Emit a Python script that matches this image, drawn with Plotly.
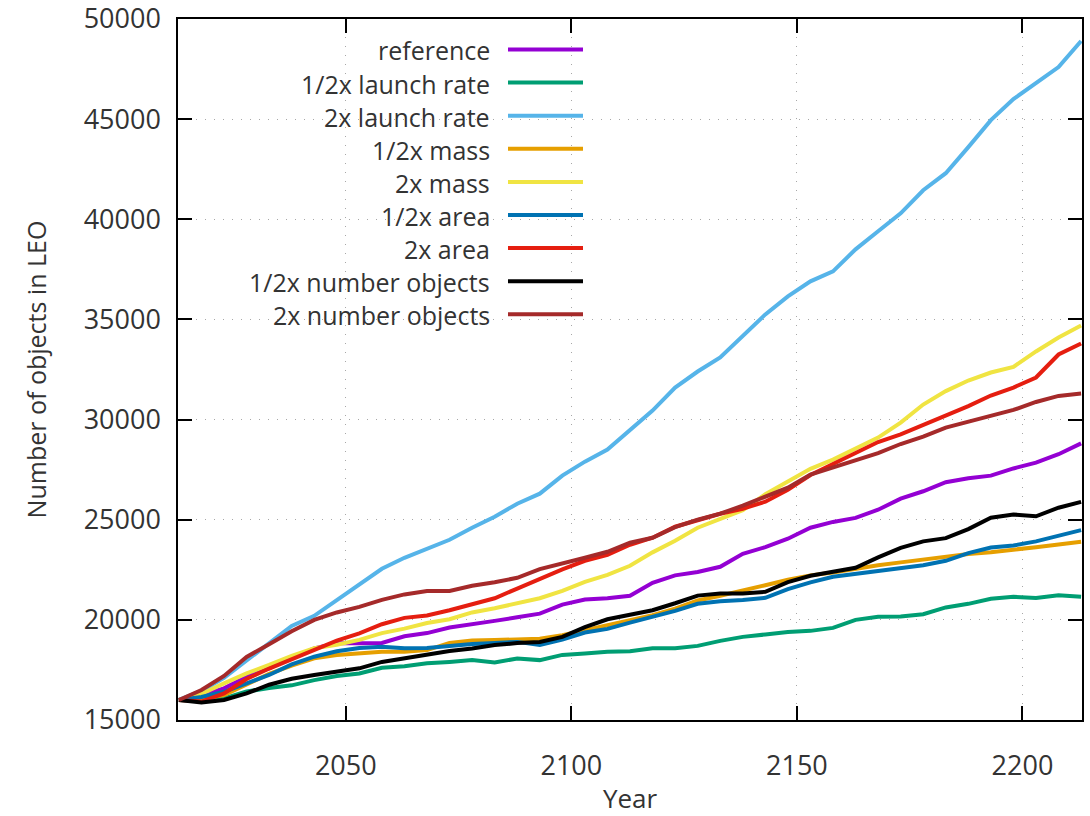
import plotly.graph_objects as go

# Simulated number of objects in LEO, sampled every 5 years
years = [2013, 2018, 2023, 2028, 2033, 2038, 2043, 2048, 2053, 2058,
         2063, 2068, 2073, 2078, 2083, 2088, 2093, 2098, 2103, 2108,
         2113, 2118, 2123, 2128, 2133, 2138, 2143, 2148, 2153, 2158,
         2163, 2168, 2173, 2178, 2183, 2188, 2193, 2198, 2203, 2208, 2213]

reference = [16000, 16250, 16580, 17160, 17580, 18110, 18580, 18830, 18830, 18850,
             19180, 19340, 19620, 19760, 19950, 20130, 20310, 20760, 21020, 21080,
             21200, 21850, 22220, 22390, 22650, 23300, 23630, 24050, 24600, 24890,
             25090, 25500, 26050, 26420, 26870, 27070, 27200, 27560, 27850, 28270, 28810]

half_launch = [16000, 15950, 16080, 16420, 16600, 16730, 16990, 17200, 17320, 17610,
               17680, 17830, 17900, 17990, 17870, 18070, 17990, 18250, 18320, 18410,
               18430, 18580, 18580, 18700, 18950, 19150, 19270, 19390, 19450, 19600,
               20000, 20150, 20170, 20280, 20620, 20800, 21050, 21150, 21090, 21230, 21150]

double_launch = [16000, 16450, 17100, 17950, 18850, 19700, 20200, 21000, 21800, 22550,
                 23100, 23550, 24000, 24600, 25150, 25800, 26300, 27200, 27900, 28500,
                 29450, 30450, 31600, 32400, 33100, 34200, 35250, 36150, 36900, 37400,
                 38500, 39400, 40300, 41450, 42300, 43600, 44950, 46000, 46800, 47600, 48900]

half_mass = [16000, 16050, 16250, 16750, 17300, 17720, 18080, 18250, 18350, 18410,
             18410, 18490, 18850, 18970, 18990, 19010, 19060, 19230, 19480, 19700,
             19960, 20230, 20560, 20970, 21200, 21440, 21730, 22000, 22220, 22360,
             22570, 22730, 22870, 23010, 23150, 23290, 23380, 23490, 23630, 23760, 23900]

double_mass = [16000, 16300, 16830, 17330, 17750, 18200, 18580, 18760, 19000, 19340,
               19560, 19840, 20030, 20370, 20580, 20850, 21080, 21450, 21900, 22250,
               22700, 23370, 23950, 24600, 25050, 25480, 26270, 26900, 27540, 28000,
               28530, 29100, 29850, 30750, 31420, 31950, 32350, 32630, 33400, 34100, 34700]

half_area = [16000, 16150, 16410, 16850, 17250, 17780, 18160, 18430, 18600, 18660,
             18580, 18600, 18700, 18800, 18850, 18900, 18750, 19020, 19370, 19550,
             19860, 20150, 20450, 20800, 20930, 20990, 21100, 21530, 21870, 22150,
             22290, 22430, 22570, 22730, 22950, 23330, 23610, 23710, 23920, 24180, 24480]

double_area = [16000, 15920, 16330, 17050, 17570, 18030, 18500, 18960, 19330, 19780,
               20100, 20220, 20480, 20760, 21080, 21560, 22050, 22520, 22950, 23250,
               23750, 24100, 24650, 25000, 25300, 25550, 25900, 26500, 27230, 27780,
               28320, 28880, 29260, 29720, 30190, 30670, 31200, 31600, 32100, 33250, 33800]

half_number = [16000, 15870, 16000, 16330, 16760, 17060, 17250, 17420, 17580, 17900,
               18080, 18210, 18440, 18570, 18740, 18840, 18900, 19150, 19640, 20030,
               20230, 20480, 20830, 21210, 21320, 21320, 21400, 21880, 22200, 22380,
               22600, 23120, 23590, 23920, 24080, 24530, 25100, 25260, 25170, 25600, 25890]

double_number = [16000, 16500, 17200, 18150, 18780, 19430, 20000, 20370, 20650, 21000,
                 21270, 21440, 21440, 21700, 21880, 22100, 22530, 22800, 23100, 23400,
                 23850, 24100, 24630, 25000, 25300, 25700, 26150, 26600, 27250, 27600,
                 27950, 28320, 28780, 29150, 29600, 29880, 30150, 30480, 30880, 31180, 31300]

series_names = ["reference", "1/2x launch rate", "2x launch rate", "1/2x mass",
                "2x mass", "1/2x area", "2x area", "1/2x number objects",
                "2x number objects"]
series_values = [reference, half_launch, double_launch, half_mass, double_mass,
                 half_area, double_area, half_number, double_number]
series_colors = ["#9400D3", "#009E73", "#56B4E9", "#E69F00", "#F0E442",
                 "#0072B2", "#E51E10", "#000000", "#A52A2A"]

x_ticks = [2050, 2100, 2150, 2200]
y_ticks = [15000, 20000, 25000, 30000, 35000, 40000, 45000, 50000]

W, H = 1090, 816
ML, MR, MT, MB = 178, 8, 19, 96
PW, PH = W - ML - MR, H - MT - MB

FONT = "Open Sans"
TXT = "#333333"
LINE_W = 4

fig = go.Figure()
for name, vals, col in zip(series_names, series_values, series_colors):
    fig.add_trace(go.Scatter(x=years, y=vals, mode="lines", name=name,
                             line=dict(color=col, width=LINE_W),
                             showlegend=False))


def px_x(px):
    return (px - ML) / PW


def px_y(py):
    return (H - MB - py) / PH


# key box in the upper-left corner: label on the left, line sample on the right
shapes, annotations = [], []
row0, row_step = 49.5, 33.1
for i, (name, col) in enumerate(zip(series_names, series_colors)):
    yc = row0 + i * row_step
    shapes.append(dict(type="line", xref="paper", yref="paper",
                       x0=px_x(508), x1=px_x(583), y0=px_y(yc), y1=px_y(yc),
                       line=dict(color=col, width=LINE_W)))
    annotations.append(dict(text=name, xref="paper", yref="paper",
                            x=px_x(492), y=px_y(yc + 1), xanchor="right",
                            yanchor="middle", showarrow=False,
                            font=dict(family=FONT, size=25, color=TXT)))

axis_common = dict(showline=True, linecolor="black", linewidth=1.5, mirror="allticks",
                   ticks="inside", ticklen=14, tickwidth=1.5, tickcolor="black",
                   showgrid=True, gridcolor="#a8a8a8", griddash="1px,8px", gridwidth=1.2,
                   zeroline=False, automargin=False, tickformat="d",
                   tickfont=dict(family=FONT, size=27, color=TXT))

fig.update_layout(
    width=W, height=H,
    margin=dict(l=ML, r=MR, t=MT, b=MB),
    paper_bgcolor="white", plot_bgcolor="white",
    xaxis=dict(range=[2012.8, 2213.2], tickvals=x_ticks, ticklabelstandoff=21,
               title=dict(text="Year", standoff=17,
                          font=dict(family=FONT, size=26, color=TXT)),
               **axis_common),
    yaxis=dict(range=[15000, 50000], tickvals=y_ticks, ticklabelstandoff=10,
               ticklabeloverflow="allow",
               title=dict(text="Number of objects in LEO", standoff=30,
                          font=dict(family=FONT, size=25, color=TXT)),
               **axis_common),
    shapes=shapes,
    annotations=annotations,
)

fig.write_html("out.html")
